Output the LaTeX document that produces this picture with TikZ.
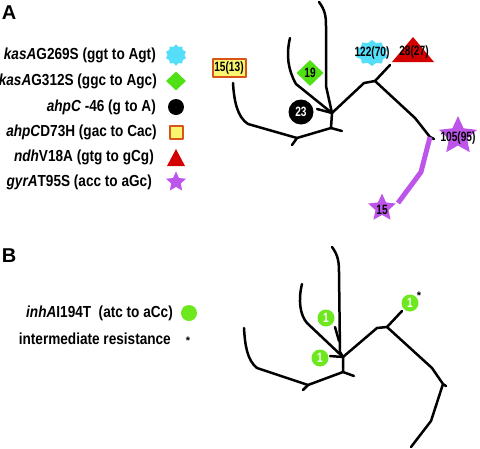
\documentclass[tikz,border=0pt]{standalone}
\usepackage{fontspec}
\setmainfont{Liberation Sans}[FakeStretch=0.85]
\newfontfamily\numfont{Liberation Sans}[FakeStretch=0.75]
\newfontfamily\plainfont{Liberation Sans}
\usetikzlibrary{shapes.geometric}
\definecolor{cyanc}{RGB}{85,222,250}
\definecolor{greenc}{RGB}{80,225,20}
\definecolor{limec}{RGB}{110,232,30}
\definecolor{yellowc}{RGB}{250,245,110}
\definecolor{orangec}{RGB}{215,85,25}
\definecolor{redc}{RGB}{210,0,0}
\definecolor{purplec}{RGB}{190,85,235}
\begin{document}
\begin{tikzpicture}[x=1pt,y=-1pt,line join=round,
  branch/.style={line width=2.5pt,black,line cap=round},
  purp/.style={line width=5pt,purplec},
  leg/.style={anchor=east,inner sep=0,font=\fontsize{16}{18}\selectfont\bfseries},
  num/.style={inner sep=0,font=\numfont\fontsize{13.5}{14}\selectfont\bfseries},
  panel/.style={inner sep=0,font=\plainfont\fontsize{20}{22}\selectfont\bfseries},
  astk/.style={inner sep=0,font=\plainfont\fontsize{11}{11}\selectfont\bfseries},
  burst/.style={star,star points=10,star point ratio=1.25,fill=cyanc,inner sep=0},
  pstar/.style={star,star points=5,star point ratio=2.1,fill=purplec,inner sep=0},
  gdot/.style={circle,fill=limec,inner sep=0,minimum size=17pt},
  ybox/.style={rectangle,fill=yellowc,draw=orangec,line width=2pt}]
\useasboundingbox (0,0) rectangle (480,448);

% panel labels
\node[panel] (pA) at (9,13) {A};
\node[panel] (pB) at (9,256) {B};

% legend A
\node[leg] (l1) at (156,55) {\textit{kasA}G269S (ggt to Agt)};
\node[leg] (l2) at (157,81) {\textit{kasA}G312S (ggc to Agc)};
\node[leg] (l3) at (156,107) {\textit{ahpC} -46 (g to A)};
\node[leg] (l4) at (157,132) {\textit{ahpC}D73H (gac to Cac)};
\node[leg] (l5) at (154,157) {\textit{ndh}V18A (gtg to gCg)};
\node[leg] (l6) at (152,182) {\textit{gyrA}T95S (acc to aGc)};
\node[burst,minimum size=21pt] (s1) at (176,55) {};
\node[diamond,fill=greenc,inner sep=0,minimum width=20pt,minimum height=19pt] (s2) at (176,81) {};
\node[circle,fill=black,inner sep=0,minimum size=16pt] (s3) at (176,107) {};
\node[ybox,inner sep=0,minimum size=13pt] (s4) at (176,132) {};
\fill[redc] (167,166) -- (176,149) -- (185,166) -- cycle;
\node[pstar,minimum size=21pt] (s6) at (176,182) {};

% tree A
\coordinate (C) at (332,113);
\coordinate (a0) at (319,2);
\coordinate (a1) at (326,26);
\coordinate (a2) at (326,86);
\coordinate (b0) at (290,38);
\coordinate (b1) at (296,84);
\coordinate (st) at (317,109);
\coordinate (d1) at (331,128);
\coordinate (d1t) at (342,131);
\coordinate (d2) at (297,138);
\coordinate (d2t) at (292,145);
\coordinate (d3) at (248,124);
\coordinate (d4) at (233,83);
\coordinate (e1) at (364,83);
\coordinate (e2) at (375,81);
\coordinate (e3) at (390,65);
\coordinate (e4) at (415,118);
\coordinate (e5) at (430,137);
\coordinate (e5t) at (434,139);
\coordinate (p1) at (421,172);
\coordinate (p2) at (398,203);
\draw[branch] (a0) .. controls (325,10) and (326,16) .. (a1) -- (a2) -- (C);
\draw[branch] (b0) .. controls (286,55) and (288,70) .. (b1) -- (C);
\draw[branch] (st) -- (C);
\draw[branch] (C) -- (d1) -- (d1t);
\draw[branch] (d1) -- (d2) -- (d2t);
\draw[branch] (d2) -- (d3) .. controls (237,117) and (234,100) .. (d4);
\draw[branch] (C) -- (e1) -- (e2) -- (e3);
\draw[branch] (e2) -- (e4) -- (e5) -- (e5t);
\draw[purp] (e5) -- (p1) -- (p2);

\node[ybox,minimum width=33pt,minimum height=18pt,inner sep=1pt,num] (n15) at (229,68) {15(13)};
\node[diamond,fill=greenc,inner sep=0,minimum width=27pt,minimum height=26pt,num] (n19) at (310,73) {19};
\node[circle,fill=black,inner sep=0,minimum size=25pt,text=white,num] (n23) at (301,112) {23};
\begin{scope}[shift={(372,53)},xscale=1.3]
\node[burst,minimum size=26pt,transform shape] (b122) at (0,0) {};
\end{scope}
\node[num] (n122) at (372,53) {122(70)};
\fill[redc] (392,62) -- (413,37) -- (434,62) -- cycle;
\node[num] (n28) at (414,52) {28(27)};
\node[pstar,minimum size=40pt] (s105) at (458,136) {};
\node[num] (n105) at (458,138) {105(95)};
\node[pstar,minimum size=29pt] (s15) at (382,208) {};
\node[num] (n15b) at (382,210) {15};

% legend B
\node[leg] (m1) at (173,313) {\textit{inhA}I194T\ \ (atc to aCc)};
\node[leg] (m2) at (171,339) {intermediate resistance};
\node[gdot,minimum size=16pt] (g1) at (189,313) {};
\node[astk] (ast1) at (188,341) {*};

% tree B
\coordinate (D) at (343,357);
\coordinate (f0) at (332,247);
\coordinate (f1) at (339,272);
\coordinate (f2) at (340,352);
\coordinate (f3) at (335,327);
\coordinate (f4) at (339,341);
\coordinate (g0) at (302,284);
\coordinate (g1c) at (307,323);
\coordinate (sb) at (330,356);
\coordinate (h1) at (343,372);
\coordinate (h1t) at (354,376);
\coordinate (h2) at (308,385);
\coordinate (h2t) at (303,390);
\coordinate (h3) at (257,368);
\coordinate (h4) at (244,328);
\coordinate (k1) at (377,328);
\coordinate (k2) at (387,327);
\coordinate (k3) at (402,311);
\coordinate (k4) at (432,368);
\coordinate (k5) at (443,384);
\coordinate (k5t) at (446,386);
\coordinate (k6) at (431,421);
\coordinate (k7) at (411,447);
\draw[branch] (f0) .. controls (338,255) and (339,262) .. (f1) -- (f2) -- (D);
\draw[branch] (f3) -- (f4);
\draw[branch] (g0) .. controls (298,300) and (300,315) .. (g1c) -- (D);
\draw[branch] (sb) -- (D);
\draw[branch] (D) -- (h1) -- (h1t);
\draw[branch] (h1) -- (h2) -- (h2t);
\draw[branch] (h2) -- (h3) .. controls (247,360) and (245,345) .. (h4);
\draw[branch] (D) -- (k1) -- (k2) -- (k3);
\draw[branch] (k2) -- (k4) -- (k5) -- (k5t);
\draw[branch] (k5) -- (k6) -- (k7);

\node[gdot,text=white,num] (q1) at (326,318) {1};
\node[gdot,text=white,num] (q2) at (320,358) {1};
\node[gdot,text=white,num] (q3) at (410,303) {1};
\node[astk] (ast2) at (419,296) {*};
\end{tikzpicture}
\end{document}
